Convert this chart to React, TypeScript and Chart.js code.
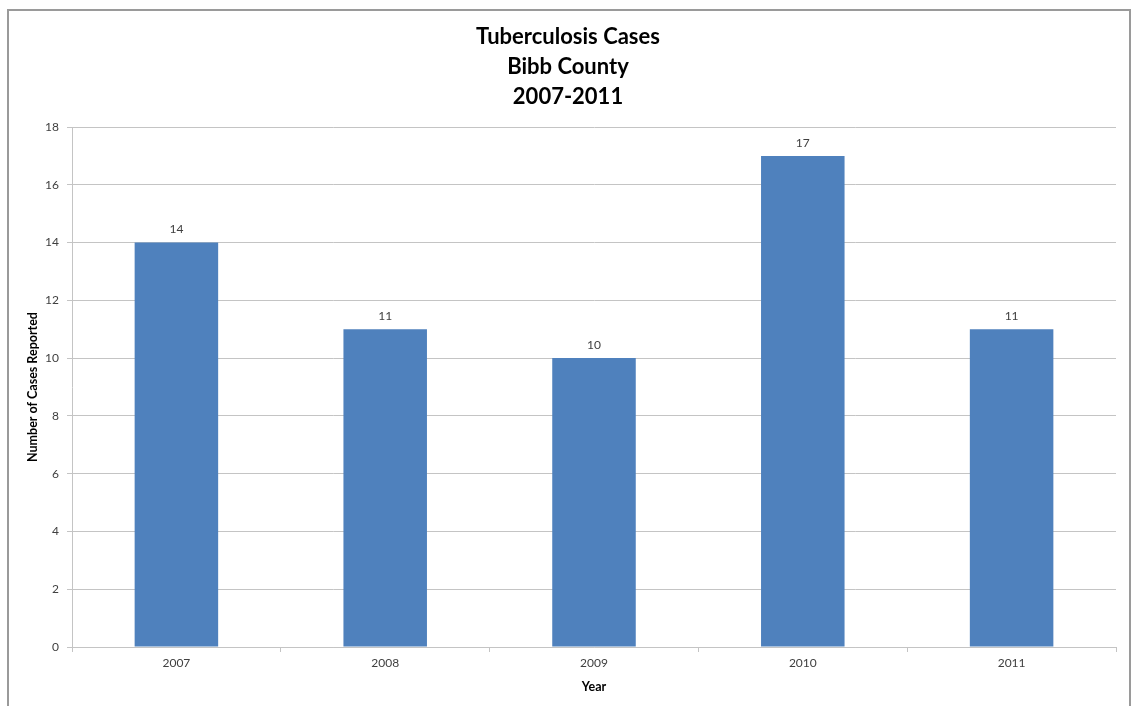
import React, { useEffect, useRef } from "react";
import { Chart, registerables } from "chart.js";

Chart.register(...registerables);

const years: string[] = ["2007", "2008", "2009", "2010", "2011"];
const cases: number[] = [14, 11, 10, 17, 11];
const titleLines: string[] = ["Tuberculosis Cases", "Bibb County", "2007-2011"];
const yAxisTitle = "Number of Cases Reported";
const xAxisTitle = "Year";

const FONT = "Lato, 'Liberation Sans', sans-serif";
const GRID = "#c4c4c4";
const TEXT = "#404040";

const valueLabels = {
  id: "valueLabels",
  afterDatasetsDraw(chart: any) {
    const ctx = chart.ctx;
    const meta = chart.getDatasetMeta(0);
    const data = chart.data.datasets[0].data as number[];
    ctx.save();
    ctx.font = `12px ${FONT}`;
    ctx.fillStyle = TEXT;
    ctx.textAlign = "center";
    ctx.textBaseline = "middle";
    meta.data.forEach((el: any, i: number) => {
      ctx.fillText(String(data[i]), el.x, el.y - 13);
    });
    ctx.restore();
  },
};

export default function App() {
  const ref = useRef<HTMLCanvasElement | null>(null);
  useEffect(() => {
    if (!ref.current) return;
    const chart = new Chart(ref.current, {
      type: "bar",
      data: {
        labels: years,
        datasets: [
          {
            data: cases,
            backgroundColor: "#4f81bd",
            borderWidth: 0,
            categoryPercentage: 1,
            barPercentage: 0.4,
          },
        ],
      },
      options: {
        animation: false,
        responsive: false,
        maintainAspectRatio: false,
        layout: { padding: { left: 20, top: 22, right: 15, bottom: 8 } },
        plugins: {
          legend: { display: false },
          tooltip: { enabled: false },
          title: {
            display: true,
            text: titleLines,
            color: "#000000",
            font: { family: FONT, size: 22, weight: "bold", lineHeight: 1.364 },
            padding: { top: 0, bottom: 15 },
          },
        },
        scales: {
          x: {
            grid: {
              display: true,
              drawOnChartArea: false,
              drawTicks: true,
              tickLength: 5,
              color: GRID,
              offset: true,
            },
            border: { display: true, color: GRID },
            ticks: { color: TEXT, font: { family: FONT, size: 12 }, padding: 4 },
            title: {
              display: true,
              text: xAxisTitle,
              color: "#000000",
              font: { family: FONT, size: 12.5, weight: "bold" },
              padding: { top: 2, bottom: 4 },
            },
            afterFit(scale: any) {
              scale.height = 51;
            },
          },
          y: {
            min: 0,
            max: 18,
            grid: { color: GRID, tickLength: 5, drawTicks: true },
            border: { display: true, color: GRID },
            ticks: {
              stepSize: 2,
              color: TEXT,
              font: { family: FONT, size: 12 },
              padding: 8,
            },
            title: {
              display: true,
              text: yAxisTitle,
              color: "#000000",
              font: { family: FONT, size: 12.5, weight: "bold" },
              padding: { top: 5, bottom: 0 },
            },
            afterFit(scale: any) {
              scale.width = 52;
            },
          },
        },
      },
      plugins: [valueLabels],
    });
    return () => chart.destroy();
  }, []);

  return (
    <div
      style={{
        position: "fixed",
        left: 0,
        top: 0,
        width: 1131,
        height: 706,
        overflow: "hidden",
        background: "#ffffff",
      }}
    >
      <div
        style={{
          position: "absolute",
          left: 7,
          top: 9,
          width: 1124,
          height: 800,
          boxSizing: "border-box",
          border: "2px solid #9a9a9a",
        }}
      />
      <canvas
        ref={ref}
        width={1131}
        height={706}
        style={{ position: "absolute", left: 0, top: 0, width: 1131, height: 706 }}
      />
    </div>
  );
}
